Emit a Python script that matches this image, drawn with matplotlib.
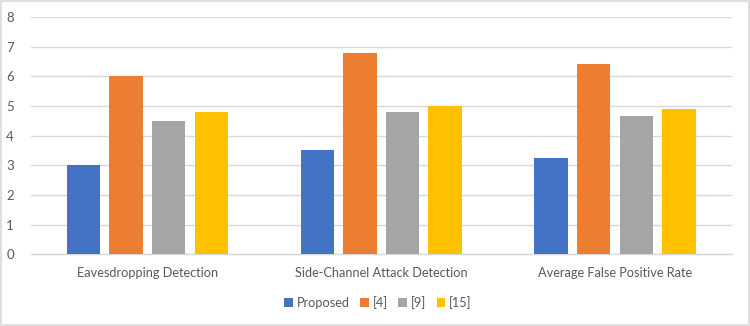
import matplotlib
matplotlib.use("Agg")
import matplotlib.pyplot as plt
import numpy as np
from matplotlib.patches import Rectangle

categories = ["Eavesdropping Detection", "Side-Channel Attack Detection", "Average False Positive Rate"]
series_names = ["Proposed", "[4]", "[9]", "[15]"]
proposed = [3.0, 3.5, 3.25]
ref4 = [6.0, 6.8, 6.4]
ref9 = [4.5, 4.8, 4.65]
ref15 = [4.8, 5.0, 4.9]
yticks = [0, 1, 2, 3, 4, 5, 6, 7, 8]

colors = ["#4472C4", "#ED7D31", "#A5A5A5", "#FFC000"]
text_color = "#595959"
plt.rcParams['font.family'] = ['Lato', 'DejaVu Sans']

fig = plt.figure(figsize=(7.5, 3.26), dpi=100)
fig.patch.set_facecolor("white")
fig.add_artist(Rectangle((0.001, 0.002), 0.997, 0.995, transform=fig.transFigure,
                         fill=False, edgecolor="#d9d9d9", linewidth=1.2))
ax = fig.add_axes([0.0408, 0.22, 0.935, 0.728])

x = np.arange(len(categories))
width = 0.143
step = 0.182
all_series = [proposed, ref4, ref9, ref15]
for i, (vals, name, c) in enumerate(zip(all_series, series_names, colors)):
    offs = (i - 1.5) * step
    ax.bar(x + offs, vals, width, color=c, label=name, zorder=3)

ax.set_xlim(-0.5, len(categories) - 0.5)
ax.set_ylim(0, 8)
ax.set_yticks(yticks)
ax.yaxis.grid(True, color="#d9d9d9", linewidth=1.0, zorder=0)
ax.set_axisbelow(True)
for s in ["top", "right", "left"]:
    ax.spines[s].set_visible(False)
ax.spines["bottom"].set_color("#d9d9d9")
ax.spines["bottom"].set_linewidth(1.0)
ax.tick_params(axis="y", length=0, colors=text_color, labelsize=9.5, pad=12)
ax.tick_params(axis="x", length=0, colors=text_color, labelsize=9.2, pad=9)
ax.set_xticks(x)
ax.set_xticklabels(categories)
ax.set_yticklabels([str(t) for t in yticks])

fig.legend(loc="center", bbox_to_anchor=(0.504, 0.071), ncol=4, frameon=False,
           handlelength=0.7, handleheight=0.7, handletextpad=0.3, columnspacing=0.8,
           fontsize=9.2, labelcolor=text_color)

fig.savefig("out.png", dpi=100, facecolor="white")
